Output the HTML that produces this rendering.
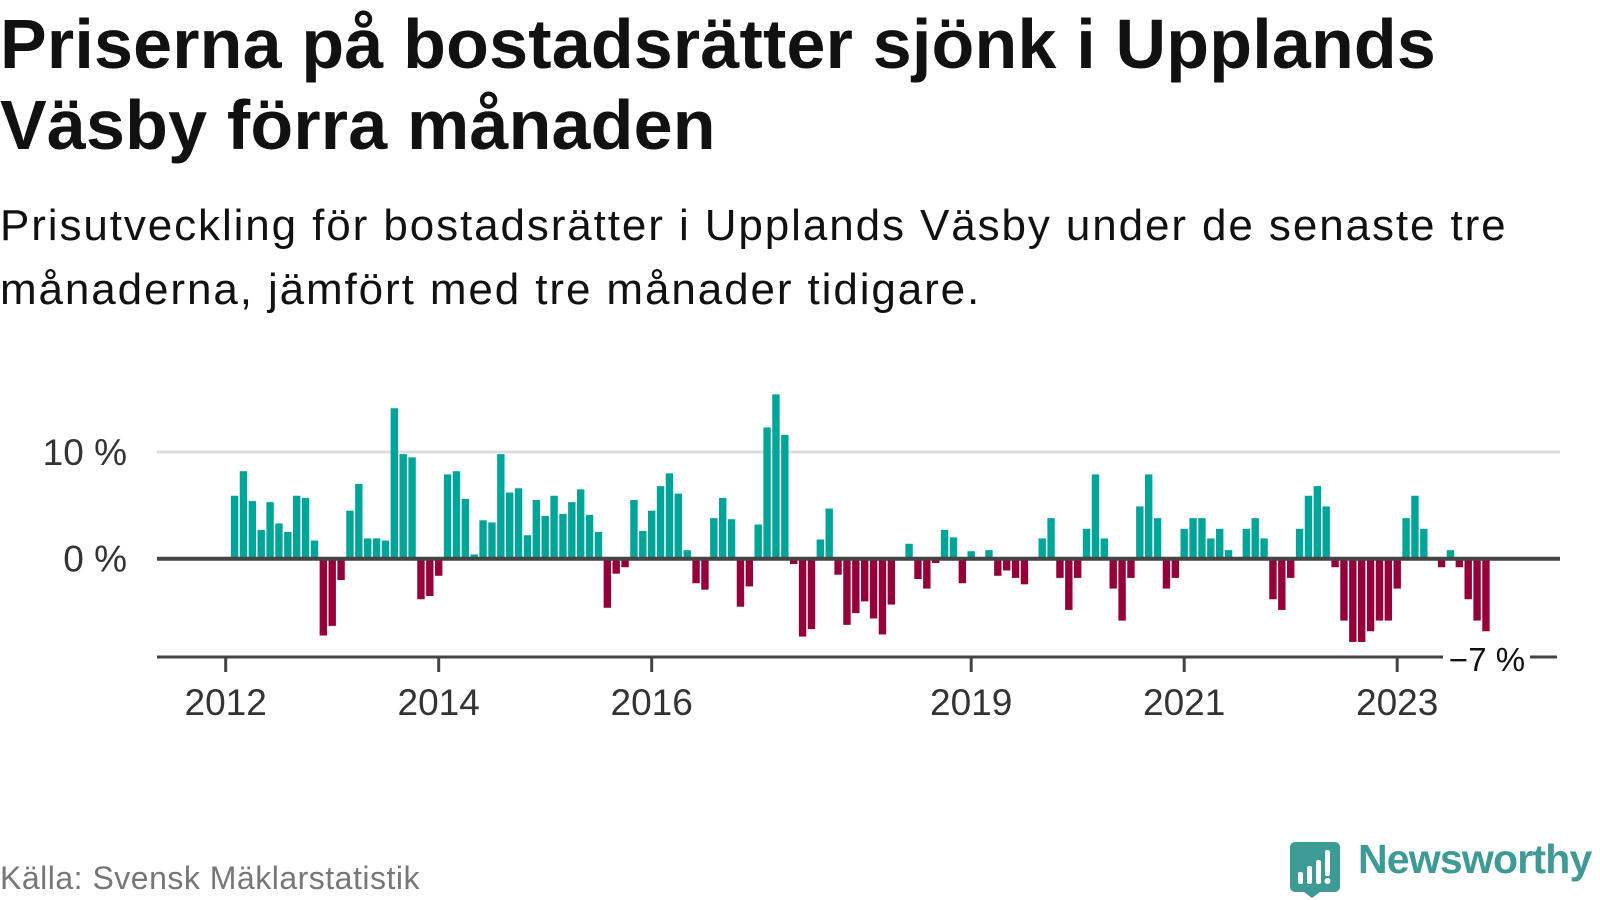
<!DOCTYPE html>
<html><head><meta charset="utf-8">
<style>
html,body{margin:0;padding:0;background:#fff;}
body{width:1600px;height:900px;overflow:hidden;position:relative;font-family:"Liberation Sans",sans-serif;}
#title{position:absolute;left:0;top:4px;margin:0;font-weight:bold;font-size:70px;line-height:81px;color:#111;letter-spacing:0.2px;}
#subtitle{position:absolute;left:0;top:194px;margin:0;font-size:44px;line-height:64px;color:#111;letter-spacing:1.9px;}
#source{position:absolute;left:0;top:860px;font-size:32px;color:#777;letter-spacing:0.5px;}
#chart{position:absolute;left:0;top:0;}
</style></head>
<body>
<h1 id="title">Priserna på bostadsrätter sjönk i Upplands<br>Väsby förra månaden</h1>
<p id="subtitle">Prisutveckling för bostadsrätter i Upplands Väsby under de senaste tre<br>månaderna, jämfört med tre månader tidigare.</p>
<svg id="chart" width="1600" height="900" xmlns="http://www.w3.org/2000/svg"></svg>
<div id="source">Källa: Svensk Mäklarstatistik</div>
<svg style="position:absolute;left:1288px;top:840px" width="54" height="60">
<path d="M4 2 H46 Q52 2 52 8 V46 Q52 52 46 52 H32 L24 58 L16 52 H8 Q2 52 2 46 V8 Q2 2 8 2 Z" fill="#3d9a95"/>
<rect x="10" y="32" width="5" height="12" rx="2" fill="#fff"/>
<rect x="19" y="26" width="5" height="18" rx="2" fill="#fff"/>
<rect x="28" y="20" width="5" height="24" rx="2" fill="#fff"/>
<rect x="37" y="10" width="5" height="26" rx="2" fill="#fff"/>
<circle cx="39.5" cy="41" r="3" fill="#fff"/>
</svg>
<div style="position:absolute;left:1358px;top:836px;font-size:41px;font-weight:bold;color:#3d9a95;letter-spacing:-0.8px">Newsworthy</div>
<script>
const values = [5.9,8.2,5.4,2.7,5.3,3.3,2.5,5.9,5.7,1.7,
-7.2,-6.3,-2.0,4.5,7.0,1.9,1.9,1.7,14.1,9.8,
9.5,-3.8,-3.5,-1.6,7.9,8.2,5.6,0.4,3.6,3.4,
9.8,6.2,6.6,2.2,5.5,4.0,5.9,4.2,5.3,6.5,
4.1,2.5,-4.6,-1.4,-0.8,5.5,2.6,4.5,6.8,8.0,
6.1,0.8,-2.3,-2.9,3.8,5.7,3.7,-4.5,-2.6,3.2,
12.3,15.4,11.6,-0.5,-7.3,-6.6,1.8,4.7,-1.5,-6.2,
-5.1,-4.0,-5.6,-7.1,-4.3,0.1,1.4,-1.9,-2.8,-0.4,
2.7,2.0,-2.3,0.7,0.1,0.8,-1.6,-1.1,-1.8,-2.4,
0,1.9,3.8,-1.8,-4.8,-1.8,2.8,7.9,1.9,-2.8,
-5.8,-1.8,4.9,7.9,3.8,-2.8,-1.8,2.8,3.8,3.8,
1.9,2.8,0.8,0,2.8,3.8,1.9,-3.8,-4.8,-1.8,
2.8,5.9,6.8,4.9,-0.8,-5.8,-7.8,-7.8,-6.8,-5.8,
-5.8,-2.8,3.8,5.9,2.8,0,-0.8,0.8,-0.8,-3.8,
-5.8,-6.8];
const firstMonth = 1; // months since Jan 2012
const tickYears = [2012,2014,2016,2019,2021,2023];
const yTicks = [0,10];
const lastLabel = "\u22127\u00a0%";

const NS = "http://www.w3.org/2000/svg";
const svg = document.getElementById('chart');
const x = m => 225.7 + m * 8.875;
const y = v => 558.7 - v * 10.67;
function el(tag, attrs){const e=document.createElementNS(NS,tag);for(const k in attrs)e.setAttribute(k,attrs[k]);svg.appendChild(e);return e;}

yTicks.forEach(t=>{
  if(t!==0){
    const g=el('line',{x1:157,x2:1560,y1:y(t),y2:y(t),stroke:'#dedede','stroke-width':3});
    
    
  }
  const lb=el('text',{x:127,y:y(t)+13,'text-anchor':'end','font-size':37,fill:'#333','font-family':'Liberation Sans, sans-serif'});
  lb.textContent=t+' %';
  
  
});

values.forEach((v,i)=>{
  const cx=x(firstMonth+i);
  const y0=y(0), y1=y(v);
  const r=el('rect',{x:cx-3.7,width:7.4,y:Math.min(y0,y1),height:Math.abs(y1-y0),fill:v>=0?'#00a59a':'#95003a'});
  
  
});

const zl=el('line',{x1:157,x2:1560,y1:y(0),y2:y(0),stroke:'#444','stroke-width':4});



const ax1=el('line',{x1:157,x2:1443,y1:657,y2:657,stroke:'#444','stroke-width':3});


const ax2=el('line',{x1:1530,x2:1557,y1:657,y2:657,stroke:'#444','stroke-width':3});



tickYears.forEach(yr=>{
  const tx=x((yr-2012)*12);
  const t=el('line',{x1:tx,x2:tx,y1:657,y2:672,stroke:'#444','stroke-width':3});
  
  
  const lb=el('text',{x:tx,y:715,'text-anchor':'middle','font-size':37,fill:'#333','font-family':'Liberation Sans, sans-serif'});
  lb.textContent=yr;
  
  
});

const ll=el('text',{x:1487,y:671,'text-anchor':'middle','font-size':33,fill:'#111','font-family':'Liberation Sans, sans-serif'});
ll.textContent=lastLabel;


</script>
</body></html>
